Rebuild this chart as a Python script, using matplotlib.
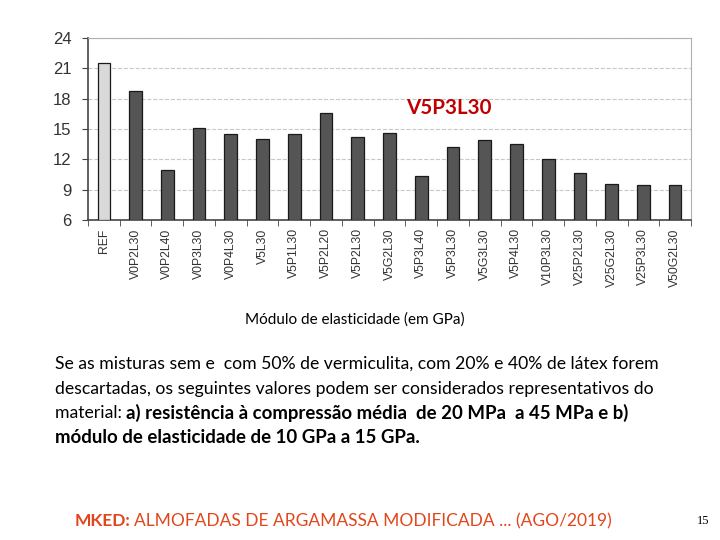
import matplotlib
matplotlib.use('Agg')
from matplotlib import pyplot as plt
from matplotlib.ticker import FixedLocator, NullFormatter

# mixtures and elastic modulus (GPa)
mixes = ["REF", "V0P2L30", "V0P2L40", "V0P3L30", "V0P4L30", "V5L30", "V5P1L30",
         "V5P2L20", "V5P2L30", "V5G2L30", "V5P3L40", "V5P3L30", "V5G3L30",
         "V5P4L30", "V10P3L30", "V25P2L30", "V25G2L30", "V25P3L30", "V50G2L30"]
modulus = [21.5, 18.8, 10.9, 15.1, 14.5, 14.0, 14.5, 16.6, 14.2, 14.65,
           10.4, 13.2, 13.9, 13.5, 12.0, 10.6, 9.6, 9.5, 9.5]
yticks = [6, 9, 12, 15, 18, 21, 24]

body_font = ['Lato', 'DejaVu Sans']
orange = '#e2461c'

fig = plt.figure(figsize=(7.2, 5.4), dpi=100)
ax = fig.add_axes([0.1222, 0.5926, 0.8375, 0.337])

colors = ['#d9d9d9'] + ['#555555'] * (len(mixes) - 1)
x = list(range(len(mixes)))
ax.bar(x, [v - 6 for v in modulus], bottom=6, width=0.40, color=colors,
       edgecolor='#1a1a1a', linewidth=0.9, zorder=3)

ax.set_xlim(-0.5, len(mixes) - 0.5)
ax.set_ylim(6, 24)
ax.set_yticks(yticks)
ax.set_yticklabels([str(t) for t in yticks], family='Liberation Sans', fontsize=12,
                   color='#333333')
ax.grid(axis='y', linestyle='--', color='#c8c8c8', linewidth=0.8, zorder=0)

ax.set_xticks(x)
ax.set_xticklabels(mixes, rotation=90, family='Liberation Sans', fontsize=8.8, color='#333333')
ax.tick_params(axis='x', which='major', length=0, pad=6)
ax.xaxis.set_minor_locator(FixedLocator([i + 0.5 for i in range(-1, len(mixes))]))
ax.xaxis.set_minor_formatter(NullFormatter())
ax.tick_params(axis='x', which='minor', length=4, color='#444444', direction='out')
ax.tick_params(axis='y', length=4, color='#444444', direction='out', pad=8)

for side in ['top', 'right']:
    ax.spines[side].set_color('#b0b0b0')
for side in ['left', 'bottom']:
    ax.spines[side].set_color('#444444')
    ax.spines[side].set_linewidth(1.2)

ax.text(0.599, 0.615, "V5P3L30", transform=ax.transAxes, ha='center', va='center',
        color='#c00000', fontsize=14.8, fontweight='bold', family=body_font)

fig.text(355 / 720, 1 - 320 / 540, "Módulo de elasticidade (em GPa)", ha='center',
         va='center', fontsize=11, family=body_font)

lines = [
    ("Se as misturas sem e  com 50% de vermiculita, com 20% e 40% de látex forem", ""),
    ("descartadas, os seguintes valores podem ser considerados representativos do", ""),
    ("material: ", "a) resistência à compressão média  de 20 MPa  a 45 MPa e b)"),
    ("", "módulo de elasticidade de 10 GPa a 15 GPa."),
]
renderer = fig.canvas.get_renderer()
y0 = 364
for normal, bold in lines:
    yy = 1 - y0 / 540
    xx = 55 / 720
    if normal:
        t = fig.text(xx, yy, normal, ha='left', va='center', fontsize=12.7, family=body_font)
        bb = t.get_window_extent(renderer)
        xx = bb.x1 / fig.bbox.width
    if bold:
        fig.text(xx, yy, bold, ha='left', va='center', fontsize=13.4, fontweight='bold',
                 family=body_font)
    y0 += 24.6

t = fig.text(75 / 720, 1 - 521 / 540, "MKED:", ha='left', va='center', fontsize=12.5,
             fontweight='bold', color=orange, family=body_font)
bb = t.get_window_extent(renderer)
fig.text((bb.x1 + 3) / fig.bbox.width, 1 - 521 / 540, "ALMOFADAS DE ARGAMASSA MODIFICADA ... (AGO/2019)",
         ha='left', va='center', fontsize=12.5, color=orange, family=body_font)
fig.text(703 / 720, 1 - 521 / 540, "15", ha='center', va='center', fontsize=9,
         family='Liberation Serif')

fig.savefig("out.png", dpi=100)
